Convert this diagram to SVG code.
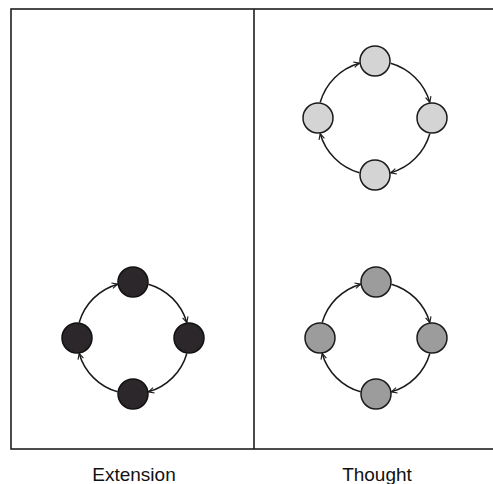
<svg xmlns="http://www.w3.org/2000/svg" width="493" height="484" viewBox="0 0 493 484">
<defs>
<marker id="arr" viewBox="0 0 10 10" refX="9" refY="5" markerWidth="7" markerHeight="7" markerUnits="userSpaceOnUse" orient="auto">
<path d="M1,1 L9,5 L1,9" fill="none" stroke="#1a1a1a" stroke-width="1.6"/>
</marker>
</defs>
<style>
.frame{fill:none;stroke:#1e1e1e;stroke-width:1.6}
.conn path{fill:none;stroke:#1a1a1a;stroke-width:1.5;marker-end:url(#arr)}
.dark{fill:#2b272a;stroke:#111;stroke-width:1.5}
.light{fill:#d4d4d4;stroke:#1a1a1a;stroke-width:1.5}
.mid{fill:#9c9c9c;stroke:#1a1a1a;stroke-width:1.5}
.lbl{font-family:"Liberation Sans",Arial,sans-serif;font-size:19px;fill:#111;text-anchor:middle}
</style>
<rect width="493" height="484" fill="#ffffff"/>
<g id="frame">
<rect class="frame" x="11" y="9" width="483" height="440"/>
<line class="frame" x1="254" y1="9" x2="254" y2="449"/>
</g>
<g id="connectors" class="conn">
<path d="M79.17,322.57 A56,56 0 0 1 117.57,284.17"/>
<path d="M148.43,284.17 A56,56 0 0 1 186.83,322.57"/>
<path d="M186.83,353.43 A56,56 0 0 1 148.43,391.83"/>
<path d="M117.57,391.83 A56,56 0 0 1 79.17,353.43"/>
<path d="M320.21,102.29 A57,57 0 0 1 359.29,63.21"/>
<path d="M390.71,63.21 A57,57 0 0 1 429.79,102.29"/>
<path d="M429.79,133.71 A57,57 0 0 1 390.71,172.79"/>
<path d="M359.29,172.79 A57,57 0 0 1 320.21,133.71"/>
<path d="M322.17,322.57 A56,56 0 0 1 360.57,284.17"/>
<path d="M391.43,284.17 A56,56 0 0 1 429.83,322.57"/>
<path d="M429.83,353.43 A56,56 0 0 1 391.43,391.83"/>
<path d="M360.57,391.83 A56,56 0 0 1 322.17,353.43"/>
</g>
<g id="ext-top"><circle class="dark" cx="133" cy="282" r="15"/></g>
<g id="ext-right"><circle class="dark" cx="189" cy="338" r="15"/></g>
<g id="ext-bottom"><circle class="dark" cx="133" cy="394" r="15"/></g>
<g id="ext-left"><circle class="dark" cx="77" cy="338" r="15"/></g>
<g id="th1-top"><circle class="light" cx="375" cy="61" r="15"/></g>
<g id="th1-right"><circle class="light" cx="432" cy="118" r="15"/></g>
<g id="th1-bottom"><circle class="light" cx="375" cy="175" r="15"/></g>
<g id="th1-left"><circle class="light" cx="318" cy="118" r="15"/></g>
<g id="th2-top"><circle class="mid" cx="376" cy="282" r="15"/></g>
<g id="th2-right"><circle class="mid" cx="432" cy="338" r="15"/></g>
<g id="th2-bottom"><circle class="mid" cx="376" cy="394" r="15"/></g>
<g id="th2-left"><circle class="mid" cx="320" cy="338" r="15"/></g>
<g id="labels">
<text class="lbl" x="134" y="481">Extension</text>
<text class="lbl" x="377" y="481">Thought</text>
</g>
</svg>
